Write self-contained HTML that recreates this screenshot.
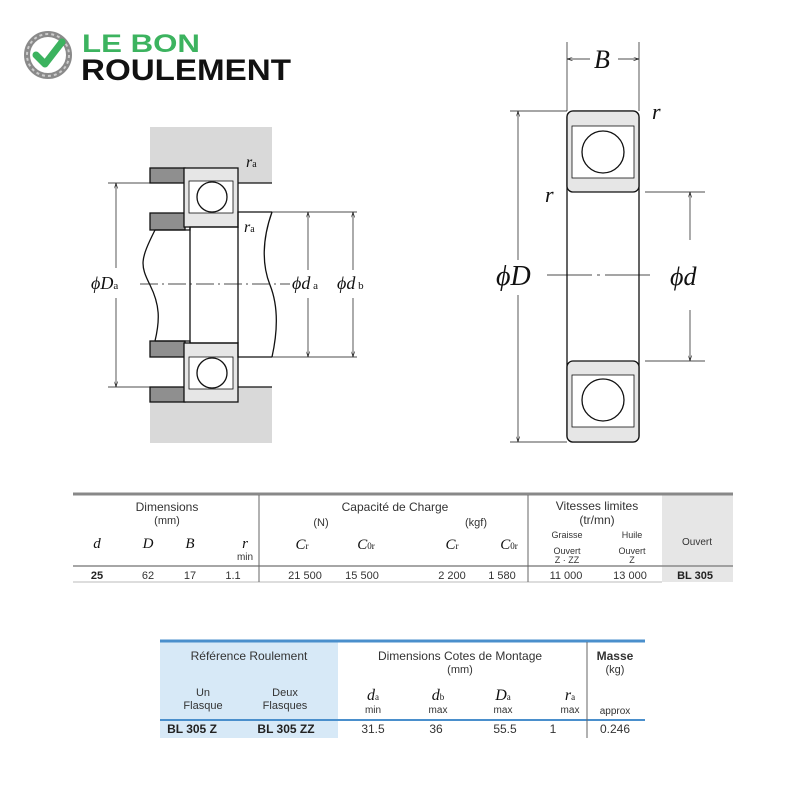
<!DOCTYPE html>
<html><head><meta charset="utf-8"><style>
html,body{margin:0;padding:0;background:#fff}
svg{display:block}
.t{font-family:"Liberation Sans Narrow","Liberation Sans",sans-serif;font-size:11px;fill:#333}
.s{font-family:"Liberation Serif",serif;font-style:italic;fill:#111}
</style></head><body>
<svg width="800" height="800" viewBox="0 0 800 800" xmlns="http://www.w3.org/2000/svg">
<defs>
<marker id="a" viewBox="0 0 10 6" refX="10" refY="3" markerWidth="8" markerHeight="5" orient="auto-start-reverse"><path d="M0 0 L10 3 L0 6" fill="none" stroke="#111" stroke-width="1"/></marker>
</defs>
<!-- Logo -->
<g>
<circle cx="48" cy="55" r="21" fill="none" stroke="#8a8a8a" stroke-width="6"/>
<circle cx="48" cy="55" r="21" fill="none" stroke="#ccc" stroke-width="2" stroke-dasharray="3 3"/>
<path d="M36 55 L45 64 L62 42" fill="none" stroke="#3cb35f" stroke-width="7" stroke-linecap="round" stroke-linejoin="round"/>
<text x="82" y="52" font-family="Liberation Sans,sans-serif" font-weight="bold" font-size="25" fill="#3cb35f" textLength="118" lengthAdjust="spacingAndGlyphs">LE BON</text>
<text x="81" y="80" font-family="Liberation Sans,sans-serif" font-weight="bold" font-size="30" fill="#111" textLength="210" lengthAdjust="spacingAndGlyphs">ROULEMENT</text>
</g>

<!-- Left drawing -->
<g stroke="#111" stroke-width="1.3" fill="none">
<rect x="150" y="127" width="122" height="316" fill="#d9d9d9" stroke="none"/>
<rect x="150" y="183" width="122" height="204" fill="#fff" stroke="none"/>
<rect x="150" y="168" width="35" height="15" fill="#8f8f8f"/>
<rect x="150" y="387" width="35" height="15" fill="#8f8f8f"/>
<rect x="150" y="213" width="35" height="17" fill="#8f8f8f"/>
<rect x="150" y="341" width="35" height="16" fill="#8f8f8f"/>
<line x1="185" y1="183" x2="272" y2="183"/>
<line x1="185" y1="387" x2="272" y2="387"/>
<rect x="184" y="168" width="54" height="59" fill="#e6e6e6"/>
<rect x="189" y="181" width="44" height="32" fill="#fff" stroke-width="0.8"/>
<circle cx="212" cy="197" r="15" fill="#fff"/>
<rect x="184" y="343" width="54" height="59" fill="#e6e6e6"/>
<rect x="189" y="357" width="44" height="32" fill="#fff" stroke-width="0.8"/>
<circle cx="212" cy="373" r="15" fill="#fff"/>
<path d="M155 230 L190 230 L190 227 L238 227 L238 212 L272 212"/>
<path d="M155 341 L190 341 L190 343 L238 343 L238 357 L272 357"/>
<line x1="190" y1="227" x2="190" y2="343"/>
<line x1="238" y1="227" x2="238" y2="343"/>
<path d="M155 230 C140 260,140 265,150 285 C160 305,160 320,155 341"/>
<path d="M272 212 C262 240,262 265,270 285 C278 305,278 330,272 357"/>
<g stroke-width="0.7">
<line x1="108" y1="183" x2="150" y2="183"/><line x1="108" y1="387" x2="150" y2="387"/>
<line x1="116" y1="268" x2="116" y2="183" marker-end="url(#a)"/><line x1="116" y1="298" x2="116" y2="387" marker-end="url(#a)"/>
<line x1="272" y1="212" x2="357" y2="212"/><line x1="272" y1="357" x2="357" y2="357"/>
<line x1="308" y1="270" x2="308" y2="212" marker-end="url(#a)"/><line x1="308" y1="298" x2="308" y2="357" marker-end="url(#a)"/>
<line x1="353" y1="270" x2="353" y2="212" marker-end="url(#a)"/><line x1="353" y1="298" x2="353" y2="357" marker-end="url(#a)"/>
<line x1="140" y1="284" x2="290" y2="284" stroke-dasharray="18 4 2 4"/>
</g>
</g>
<text x="246" y="167" class="s" font-size="16">r<tspan font-size="10" font-style="normal">a</tspan></text>
<text x="244" y="232" class="s" font-size="16">r<tspan font-size="10" font-style="normal">a</tspan></text>
<text x="91" y="289" class="s" font-size="18">ϕD<tspan font-size="11" font-style="normal">a</tspan></text>
<text x="292" y="289" class="s" font-size="18">ϕd<tspan font-size="11" font-style="normal"> a</tspan></text>
<text x="337" y="289" class="s" font-size="18">ϕd<tspan font-size="11" font-style="normal"> b</tspan></text>

<!-- Right drawing -->
<g stroke="#111" stroke-width="1.3" fill="none">
<rect x="567" y="111" width="72" height="331" rx="6"/>
<rect x="567" y="111" width="72" height="81" rx="6" fill="#e6e6e6"/>
<rect x="567" y="361" width="72" height="81" rx="6" fill="#e6e6e6"/>
<rect x="572" y="126" width="62" height="52" fill="#fff" stroke-width="0.8"/>
<rect x="572" y="375" width="62" height="52" fill="#fff" stroke-width="0.8"/>
<circle cx="603" cy="152" r="21" fill="#fff"/>
<circle cx="603" cy="400" r="21" fill="#fff"/>
<g stroke-width="0.7">
<line x1="567" y1="42" x2="567" y2="111"/><line x1="639" y1="42" x2="639" y2="111"/>
<line x1="590" y1="59" x2="567" y2="59" marker-end="url(#a)"/><line x1="618" y1="59" x2="639" y2="59" marker-end="url(#a)"/>
<line x1="510" y1="111" x2="567" y2="111"/><line x1="510" y1="442" x2="567" y2="442"/>
<line x1="518" y1="260" x2="518" y2="111" marker-end="url(#a)"/><line x1="518" y1="295" x2="518" y2="442" marker-end="url(#a)"/>
<line x1="645" y1="192" x2="705" y2="192"/><line x1="645" y1="361" x2="705" y2="361"/>
<line x1="690" y1="240" x2="690" y2="192" marker-end="url(#a)"/><line x1="690" y1="310" x2="690" y2="361" marker-end="url(#a)"/>
<line x1="547" y1="275" x2="655" y2="275" stroke-dasharray="45 5 3 5"/>
</g>
</g>
<text x="594" y="68" class="s" font-size="26">B</text>
<text x="652" y="119" class="s" font-size="22">r</text>
<text x="545" y="202" class="s" font-size="22">r</text>
<text x="496" y="285" class="s" font-size="28">ϕD</text>
<text x="670" y="285" class="s" font-size="26">ϕd</text>

<!-- Table 1 -->
<rect x="662" y="494" width="71" height="88" fill="#e6e6e6"/>
<line x1="73" y1="494" x2="733" y2="494" stroke="#888" stroke-width="3"/>
<line x1="73" y1="566" x2="733" y2="566" stroke="#888" stroke-width="1.5"/>
<line x1="73" y1="582" x2="662" y2="582" stroke="#bbb" stroke-width="1"/>
<g stroke="#666" stroke-width="1"><line x1="259" y1="495" x2="259" y2="582"/><line x1="528" y1="495" x2="528" y2="582"/></g>
<g class="t" text-anchor="middle">
<text x="167" y="511" font-size="12">Dimensions</text>
<text x="167" y="524" font-size="11">(mm)</text>
<text x="395" y="511" font-size="12">Capacité de Charge</text>
<text x="321" y="526">(N)</text><text x="476" y="526">(kgf)</text>
<text x="597" y="510" font-size="12">Vitesses limites</text>
<text x="597" y="524" font-size="12">(tr/mn)</text>
<text x="567" y="538" font-size="9">Graisse</text><text x="632" y="538" font-size="9">Huile</text>
<text x="567" y="554" font-size="9">Ouvert</text><text x="567" y="563" font-size="9">Z · ZZ</text>
<text x="632" y="554" font-size="9">Ouvert</text><text x="632" y="563" font-size="9">Z</text>
<text x="697" y="545" font-size="10">Ouvert</text>
<text x="245" y="560" font-size="10">min</text>
<text x="97" y="579" font-weight="bold" fill="#222">25</text>
<text x="148" y="579">62</text><text x="190" y="579">17</text><text x="233" y="579">1.1</text>
<text x="305" y="579">21 500</text><text x="362" y="579">15 500</text>
<text x="452" y="579">2 200</text><text x="502" y="579">1 580</text>
<text x="566" y="579">11 000</text><text x="630" y="579">13 000</text>
<text x="695" y="579" font-weight="bold" fill="#222">BL 305</text>
</g>
<g class="s" font-size="15" text-anchor="middle">
<text x="97" y="548">d</text><text x="148" y="548">D</text><text x="190" y="548">B</text><text x="245" y="548">r</text>
<text x="302" y="549">C<tspan font-size="9" font-style="normal">r</tspan></text>
<text x="366" y="549">C<tspan font-size="9" font-style="normal">0r</tspan></text>
<text x="452" y="549">C<tspan font-size="9" font-style="normal">r</tspan></text>
<text x="509" y="549">C<tspan font-size="9" font-style="normal">0r</tspan></text>
</g>

<!-- Table 2 -->
<rect x="160" y="641" width="178" height="97" fill="#d7e9f7"/>
<line x1="160" y1="641" x2="645" y2="641" stroke="#4a8fcc" stroke-width="3"/>
<line x1="160" y1="720" x2="645" y2="720" stroke="#4a8fcc" stroke-width="2"/>
<line x1="587" y1="642" x2="587" y2="738" stroke="#666" stroke-width="1"/>
<g class="t" text-anchor="middle">
<text x="249" y="660" font-size="12">Référence Roulement</text>
<text x="460" y="660" font-size="12">Dimensions Cotes de Montage</text>
<text x="460" y="673" font-size="11">(mm)</text>
<text x="615" y="660" font-size="12" font-weight="bold" fill="#333">Masse</text>
<text x="615" y="673">(kg)</text>
<text x="203" y="696">Un</text><text x="203" y="709">Flasque</text>
<text x="285" y="696">Deux</text><text x="285" y="709">Flasques</text>
<text x="373" y="713" font-size="10">min</text><text x="438" y="713" font-size="10">max</text>
<text x="503" y="713" font-size="10">max</text><text x="570" y="713" font-size="10">max</text>
<text x="615" y="714" font-size="10">approx</text>
<text x="192" y="733" font-size="12" font-weight="bold" fill="#222">BL 305 Z</text>
<text x="286" y="733" font-size="12" font-weight="bold" fill="#222">BL 305 ZZ</text>
<text x="373" y="733" font-size="12">31.5</text><text x="436" y="733" font-size="12">36</text>
<text x="505" y="733" font-size="12">55.5</text><text x="553" y="733" font-size="12">1</text>
<text x="615" y="733" font-size="12">0.246</text>
</g>
<g class="s" font-size="16" text-anchor="middle">
<text x="373" y="700">d<tspan font-size="9" font-style="normal">a</tspan></text>
<text x="438" y="700">d<tspan font-size="9" font-style="normal">b</tspan></text>
<text x="503" y="700">D<tspan font-size="9" font-style="normal">a</tspan></text>
<text x="570" y="700">r<tspan font-size="9" font-style="normal">a</tspan></text>
</g>
</svg>
</body></html>
